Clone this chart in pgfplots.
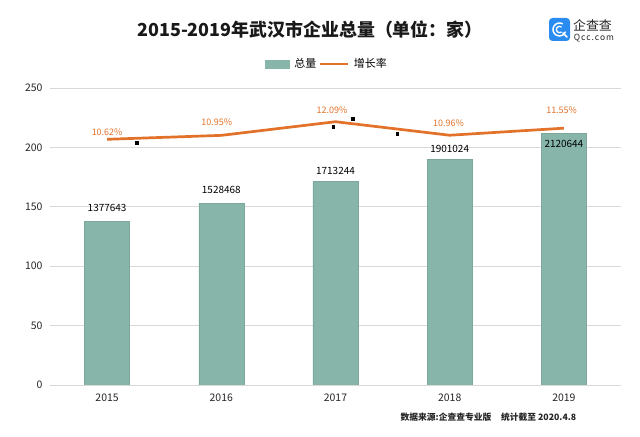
\documentclass[border=0pt]{standalone}
\usepackage{fontspec}
\setmainfont{Noto Sans CJK SC}
\usepackage{pgfplots}
\pgfplotsset{compat=1.18}
\definecolor{barc}{HTML}{87B5A9}
\definecolor{linec}{HTML}{E2722A}
\definecolor{gridc}{HTML}{D9D9D9}
\definecolor{logob}{HTML}{2A8CF0}
\begin{document}
\begin{tikzpicture}
\useasboundingbox (-50bp,-52bp) rectangle (590bp,385bp);
\fill[white] (-50bp,-52bp) rectangle (590bp,385bp);
\begin{axis}[
  at={(0,0)}, anchor=south west, scale only axis,
  width=571bp, height=297bp,
  xmin=-0.5, xmax=4.5, ymin=0, ymax=250,
  ytick={0,50,...,250},
  /pgf/number format/assume math mode=true,
  ymajorgrids, grid style={gridc, line width=0.8bp},
  axis x line*=bottom, axis y line*=left,
  x axis line style={gridc, line width=0.8bp, -},
  y axis line style={draw=none},
  ytick style={draw=none},
  xtick={0,1,2,3,4}, xticklabels={2015,2016,2017,2018,2019},
  xtick style={draw=none},
  extra x ticks={-0.5,0.5,1.5,2.5,3.5,4.5},
  extra x tick labels={},
  extra x tick style={grid=none, tick align=outside, major tick length=5bp,
     tick style={draw=gridc, line width=0.8bp}},
  tick label style={font=\fontsize{10.5}{12}\selectfont, text=black!85},
  yticklabel style={xshift=-4bp},
  xticklabel style={yshift=-5bp},
  legend style={at={(0.485,1.081)}, anchor=center, draw=none, fill=none,
     legend columns=2, font=\fontsize{11}{13}\selectfont, inner sep=0pt,
     /tikz/every odd column/.append style={column sep=3bp},
     /tikz/every even column/.append style={column sep=0bp}},
  legend cell align=left,
]
\addplot[ybar, bar width=45bp, fill=barc, draw=barc!92!black, line width=0.4bp,
  legend image code/.code={\fill[barc] (0bp,-4bp) rectangle (24bp,4bp);}]
  coordinates {(0,137.7643) (1,152.8468) (2,171.3244) (3,190.1024) (4,212.0644)};
\addlegendentry{总量}
\addlegendimage{linec, line width=2.5bp, legend image code/.code={\draw[linec, line width=2.5bp] (0bp,0bp) -- (28bp,0bp);}}
\addlegendentry{增长率}
\addplot[only marks, mark=square*, mark size=1.4bp, black]
  coordinates {(0.26,203.7) (1.98,217.2) (2.15,223.9) (2.54,211.3)};
\begin{scope}[every node/.style={font=\fontsize{10}{12}\selectfont, text=black}]
\node at (axis cs:0,149.0) {1377643};
\node at (axis cs:1,164.1) {1528468};
\node at (axis cs:2,180.1) {1713244};
\node at (axis cs:3,198.6) {1901024};
\node at (axis cs:4,202.6) {2120644};
\end{scope}
\begin{scope}[every node/.style={font=\fontsize{9}{11}\selectfont, text=linec}]
\node at (axis cs:0,212.4) {10.62\%};
\node at (axis cs:0.96,220.8) {10.95\%};
\node at (axis cs:1.97,230.9) {12.09\%};
\node at (axis cs:2.99,220.3) {10.96\%};
\node at (axis cs:3.98,230.9) {11.55\%};
\end{scope}
\end{axis}
\begin{axis}[
  at={(0,0)}, anchor=south west, scale only axis,
  width=571bp, height=297bp,
  xmin=-0.5, xmax=4.5, ymin=-9.92, ymax=14.91,
  hide axis, clip=false]
\addplot[linec, line width=2.7bp, no marks, line join=round]
  coordinates {(0,10.62) (1,10.95) (2,12.09) (3,10.96) (4,11.55)};
\end{axis}
% title
\node[font=\fontsize{18}{21}\selectfont\bfseries, text=black!90] at (260bp,355bp)
  {2015-2019年武汉市企业总量（单位：家）};
% footnote
\node[font=\fontsize{8.8}{11}\selectfont\bfseries, text=black!85] at (438.5bp,-32bp)
  {数据来源:企查查专业版\hspace{1.1em}统计截至 2020.4.8};
% logo
\fill[logob, rounded corners=3.5bp] (499bp,344bp) rectangle (520bp,367bp);
\draw[white, line width=1.5bp] (509.5bp,355.5bp) ++(60:6.5bp) arc (60:340:6.5bp);
\draw[white, line width=1.3bp] (509.5bp,355.5bp) ++(50:3.2bp) arc (50:310:3.2bp);
\draw[white, line width=1.5bp, line cap=round] (513bp,352bp) -- (517bp,348bp);
\node[font=\fontsize{13}{15}\selectfont, text=black!85, inner sep=0pt] at (542.5bp,360bp) {企查查};
\node[font=\fontsize{8.5}{10}\selectfont, text=black!85, inner sep=0pt] at (544bp,347bp) {\addfontfeatures{LetterSpace=12}Qcc.com};
\end{tikzpicture}
\end{document}
